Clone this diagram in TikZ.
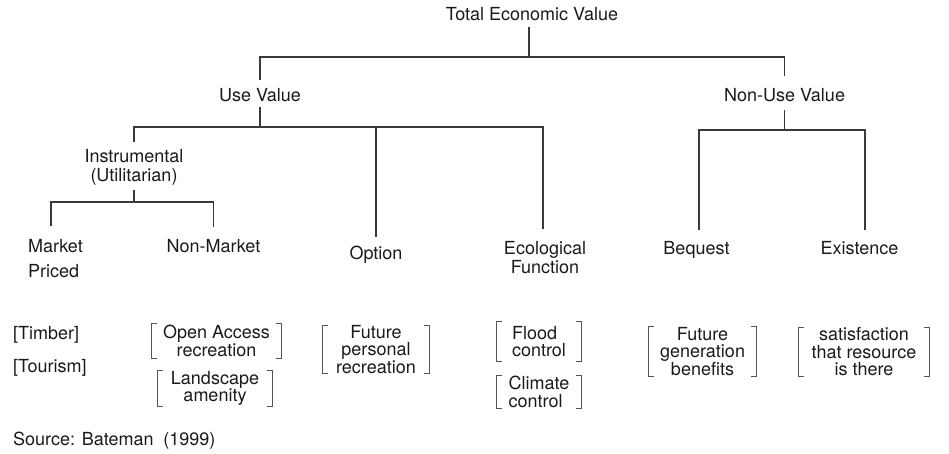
\documentclass[tikz,border=0pt]{standalone}
\usepackage{fontspec}
\setmainfont{TeX Gyre Heros}
\definecolor{ink}{HTML}{1A1A1A}
\definecolor{linec}{HTML}{3A3A3A}
\definecolor{brkc}{HTML}{555555}
\newcommand\drawbrackets[1]{%
  \draw[brkline] ([xshift=5pt]#1.north west) -- (#1.north west) -- (#1.south west) -- ([xshift=5pt]#1.south west);
  \draw[brkline] ([xshift=-5pt]#1.north east) -- (#1.north east) -- (#1.south east) -- ([xshift=-5pt]#1.south east);}
\begin{document}
\begin{tikzpicture}[x=1pt,y=-1pt,
  every node/.style={text=ink, inner sep=0pt},
  lbl/.style={font=\fontsize{18}{19}\selectfont, text height=13pt, text depth=4pt},
  mlbl/.style={font=\fontsize{18}{19}\selectfont, align=center},
  brk/.style={font=\fontsize{18}{17.5}\selectfont, align=center},
  conn/.style={draw=linec, line width=1.4pt},
  brkline/.style={draw=brkc, line width=1pt}]
\useasboundingbox (0,0) rectangle (949,454);

% tree labels
\node[lbl] (tev) at (532,16.5) {Total Economic Value};
\node[lbl] (use) at (260,97.5) {Use Value};
\node[lbl] (nonuse) at (784.5,97.5) {Non-Use Value};
\node[mlbl] (instr) at (134,167) {Instrumental\\(Utilitarian)};
\node[lbl] (option) at (376,254.5) {Option};
\node[mlbl] (eco) at (545,258) {Ecological\\Function};
\node[font=\fontsize{18}{25}\selectfont, align=left, anchor=west] (market) at (28,258.5) {Market\\Priced};
\node[lbl] (nonmarket) at (213.5,247.5) {Non-Market};
\node[lbl] (bequest) at (696.5,249.5) {Bequest};
\node[lbl] (existence) at (859.5,249.5) {Existence};

% connectors
\draw[conn] ([xshift=-3pt,yshift=-2pt]tev.south) -- ++(0,30) -| ([yshift=9pt]use.north);
\draw[conn] ([xshift=-3pt,yshift=-2pt]tev.south) -- ++(0,30) -| ([yshift=13pt]nonuse.north);
\draw[conn] ([yshift=-1pt]use.south) -- ++(0,20) -| ([yshift=7pt]instr.north);
\draw[conn] ([yshift=-1pt]use.south) -- ++(0,20) -| ([yshift=9pt]option.north);
\draw[conn] ([yshift=-1pt]use.south) -- ++(0,20) -| ([xshift=-2pt,yshift=13pt]eco.north);
\draw[conn] ([yshift=-5pt]instr.south) -- ++(0,12) -| ([xshift=-4.5pt,yshift=13pt]market.north);
\draw[conn] ([yshift=-5pt]instr.south) -- ++(0,12) -| ([yshift=12pt]nonmarket.north);
\draw[conn] ([yshift=-4pt]nonuse.south) -- ++(0,20) -| ([xshift=2.5pt,yshift=11pt]bequest.north);
\draw[conn] ([yshift=-4pt]nonuse.south) -- ++(0,20) -| ([xshift=5.5pt,yshift=11pt]existence.north);

% examples
\node[font=\fontsize{18}{19}\selectfont, anchor=base west] (timber) at (13,339) {[Timber]};
\node[font=\fontsize{18}{19}\selectfont, anchor=base west] (tourism) at (13,372) {[Tourism]};

\node[brk, minimum width=129pt, minimum height=34pt] (oa) at (216.5,341) {Open Access\\recreation};
\node[brk, minimum width=114pt, minimum height=35pt] (la) at (215,388.5) {Landscape\\amenity};
\node[brk, minimum width=106pt, minimum height=47pt] (fpr) at (376,349.5) {Future\\personal\\recreation};
\node[brk, align=left, minimum width=84pt, minimum height=39pt] (fc) at (539,341.5) {Flood\\control};
\node[brk, align=left, minimum width=84pt, minimum height=32pt] (cc) at (539,392) {Climate\\control};
\node[brk, minimum width=107pt, minimum height=49pt] (fgb) at (702.5,351.5) {Future\\generation\\benefits};
\node[brk, minimum width=130pt, minimum height=48pt] (sat) at (864,352) {satisfaction\\that resource\\is there};
\drawbrackets{oa}
\drawbrackets{la}
\drawbrackets{fpr}
\drawbrackets{fc}
\drawbrackets{cc}
\drawbrackets{fgb}
\drawbrackets{sat}

\node[font=\fontsize{18}{19}\selectfont, anchor=base west] (source) at (13,445) {Source: Bateman\hspace{0.55em}(1999)};
\end{tikzpicture}
\end{document}
